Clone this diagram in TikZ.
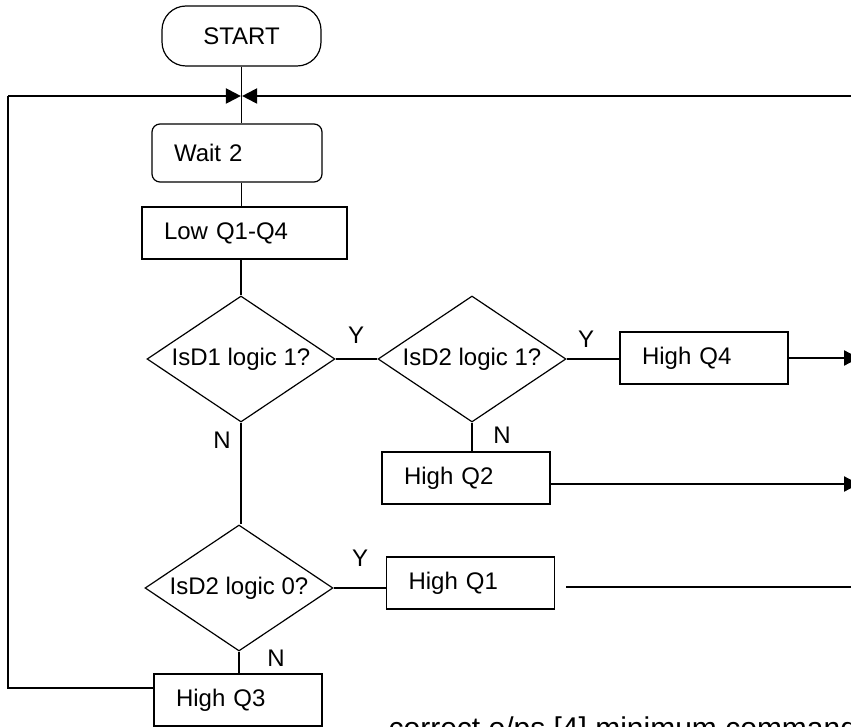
\documentclass[tikz,border=0pt]{standalone}
\usepackage{fontspec}
\setmainfont{Liberation Sans}
\usetikzlibrary{arrows.meta,calc,shapes.geometric}

\begin{document}
\begin{tikzpicture}[x=1pt,y=-1pt,line width=1.2pt,
  every node/.style={font=\fontsize{24}{29}\selectfont},
  box/.style={draw,rectangle,minimum height=52pt,inner xsep=22pt,inner ysep=0pt,
    align=left,text width=124pt},
  decide/.style={draw,diamond,aspect=1.5,inner sep=0pt,minimum width=188pt,minimum height=126pt},
  flow/.style={line width=2.2pt},
  arr/.style={-{Triangle[length=15pt,width=15pt]}}]
\useasboundingbox (0,0) rectangle (851,727);
\clip (0,0) rectangle (851,727);

\node[draw,rectangle,rounded corners=24pt,minimum width=159pt,minimum height=60pt] (start) at (241.5,36) {START};
\node[box,rounded corners=8pt,minimum height=58pt,text width=126pt] (wait) at (237,153) {Wait 2};
\node[box,text width=161pt] (low) at (244.5,233) {Low Q1-Q4};

\node[decide] (d1) at (241,359) {IsD1 logic 1?};
\node[decide] (d2) at (472,359) {IsD2 logic 1?};
\node[decide] (d3) at (239,588) {IsD2 logic 0?};

\node[box] (q4) at (704,358) {High Q4};
\node[box] (q2) at (466,478) {High Q2};
\node[box] (q1) at (470.5,583) {High Q1};
\node[box] (q3) at (238,700) {High Q3};

\node (y1) at (356,335) {Y};
\node (y2) at (586,339) {Y};
\node (n1) at (222,440) {N};
\node (n2) at (502,435) {N};
\node (y3) at (360,558) {Y};
\node (n3) at (276,658) {N};

\node[anchor=base west,inner sep=0pt,font=\fontsize{30}{36}\selectfont] (note) at (388,738) {correct o/ps [4] minimum command};

\coordinate (lt) at (8,96);
\coordinate (lb) at (8,688);
\coordinate (rt) at (862,96);
\coordinate (join) at (start.south |- lt);
\coordinate (e4) at (859,358);
\coordinate (e2) at (859,484);
\coordinate (g1) at (566,587);
\coordinate (e1) at (862,587);

\draw (start.south) -- (start.south |- wait.north);
\draw (wait.south -| start) -- (low.north -| start);
\draw (low.south -| d1) -- (d1.north);
\draw (d1.east) -- (d2.west);
\draw (d2.east) -- (d2.east -| q4.west);
\draw (d2.south) -- (d2.south |- q2.north);
\draw (d1.south) -- (d1.south |- d3.north);
\draw (d3.east) -- (d3.east -| q1.west);
\draw (d3.south) -- (d3.south |- q3.north);

\draw[flow,arr] (q4.east |- e4) -- (e4);
\draw[flow,arr] (q2.east |- e2) -- (e2);
\draw (g1) -- (e1);

\draw (q3.west |- lb) -- (lb) -- (lt);
\draw[flow,arr] (lt) -- ([xshift=-0.6pt]join);
\draw[flow,arr] (rt) -- ([xshift=0.6pt]join);

\end{tikzpicture}
\end{document}
